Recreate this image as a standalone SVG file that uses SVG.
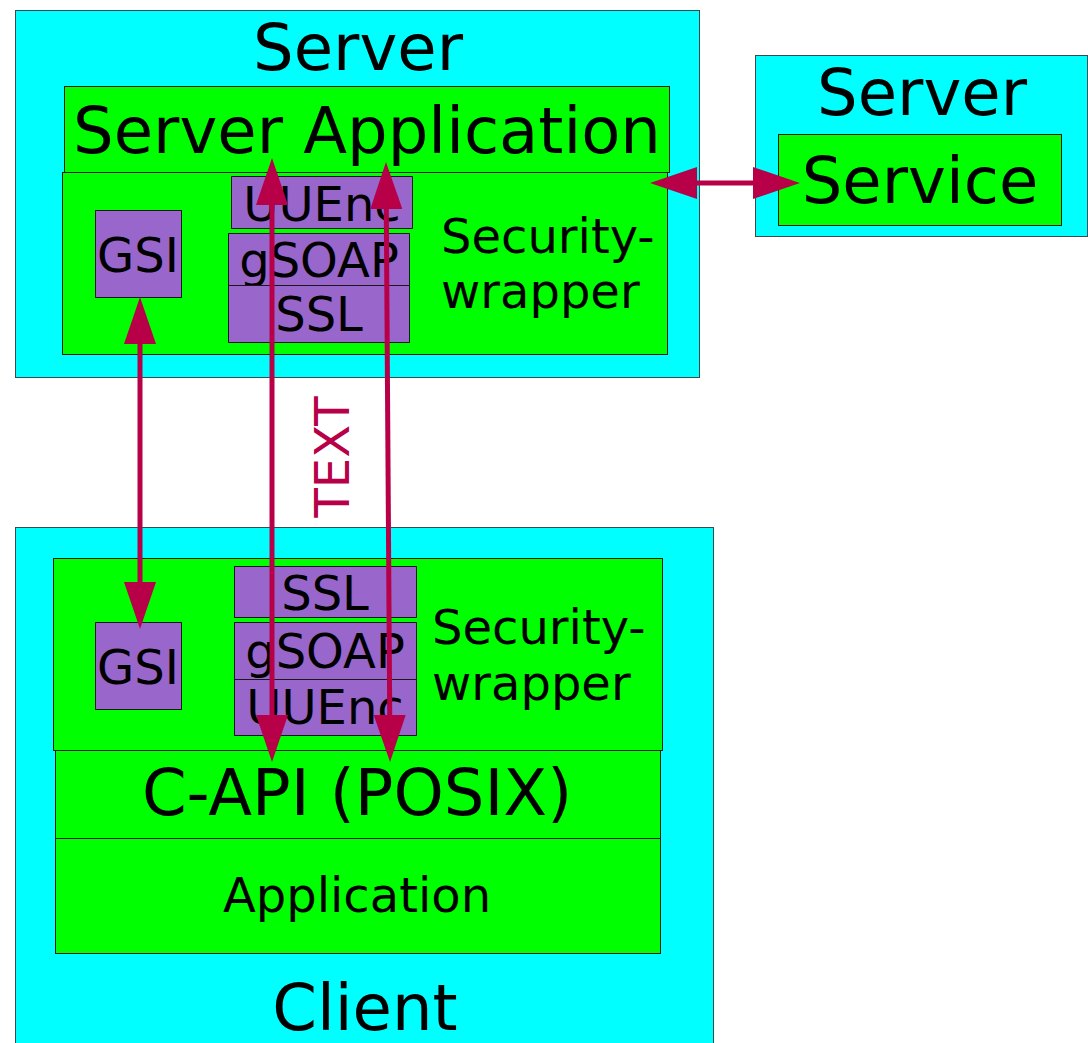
<svg xmlns="http://www.w3.org/2000/svg" width="1088" height="1043" viewBox="0 0 1088 1043">
<defs>
<style>
.host{fill:#00ffff;stroke:#3a4a50;stroke-width:1}
.grn{fill:#00ff00;stroke:#1a1a1a;stroke-width:1}
.pur{fill:#9966cc;stroke:#1a1a1a;stroke-width:1}
text{font-family:"DejaVu Sans",Verdana,sans-serif;fill:#000}
.big{font-size:64px;text-anchor:middle}
.mid{font-size:48px}
.c{text-anchor:middle}
.arr{stroke:#b80048;stroke-width:5;fill:none;marker-start:url(#ah);marker-end:url(#ah)}
.lbl{fill:#b80048;font-size:48px;text-anchor:middle}
</style>
<marker id="ah" markerUnits="userSpaceOnUse" markerWidth="48" markerHeight="32" refX="27" refY="16" orient="auto-start-reverse" viewBox="0 0 48 32">
<path d="M0,0 L47,16 L0,32 z" fill="#b80048"/>
</marker>
</defs>
<g id="server-main">
<rect class="host" x="15.5" y="10.5" width="684" height="367"/>
<text class="big" x="358" y="70">Server</text>
</g>
<g id="server-application">
<rect class="grn" x="64.5" y="86.5" width="605" height="86"/>
<text class="big" x="367" y="153">Server Application</text>
</g>
<g id="server-security-wrapper">
<rect class="grn" x="62.5" y="172.5" width="605" height="182"/>
<text class="mid" x="441" y="253">Security-</text>
<text class="mid" x="441" y="308">wrapper</text>
</g>
<g id="server-gsi">
<rect class="pur" x="95.5" y="210.5" width="86" height="87"/>
<text class="mid c" x="138" y="272">GSI</text>
</g>
<g id="server-uuenc">
<rect class="pur" x="231.5" y="176.5" width="181" height="52"/>
<text class="mid c" x="322" y="221">UUEnc</text>
</g>
<g id="server-gsoap">
<rect class="pur" x="228.5" y="233.5" width="181" height="52"/>
<text class="mid c" x="319" y="277">gSOAP</text>
</g>
<g id="server-ssl">
<rect class="pur" x="228.5" y="285.5" width="181" height="57"/>
<text class="mid c" x="319" y="331">SSL</text>
</g>
<g id="server-right">
<rect class="host" x="755.5" y="55.5" width="332" height="181"/>
<text class="big" x="922" y="115">Server</text>
</g>
<g id="service">
<rect class="grn" x="778.5" y="134.5" width="283" height="91"/>
<text class="big" x="920" y="203">Service</text>
</g>
<g id="client">
<rect class="host" x="15.5" y="527.5" width="698" height="520"/>
<text class="big" x="365" y="1030">Client</text>
</g>
<g id="client-security-wrapper">
<rect class="grn" x="53.5" y="558.5" width="609" height="192"/>
<text class="mid" x="432" y="644">Security-</text>
<text class="mid" x="432" y="700">wrapper</text>
</g>
<g id="client-gsi">
<rect class="pur" x="95.5" y="622.5" width="86" height="87"/>
<text class="mid c" x="138" y="684">GSI</text>
</g>
<g id="client-ssl">
<rect class="pur" x="234.5" y="566.5" width="182" height="51"/>
<text class="mid c" x="325" y="610">SSL</text>
</g>
<g id="client-gsoap">
<rect class="pur" x="234.5" y="622.5" width="182" height="57"/>
<text class="mid c" x="325" y="668">gSOAP</text>
</g>
<g id="client-uuenc">
<rect class="pur" x="234.5" y="679.5" width="182" height="56"/>
<text class="mid c" x="325" y="724">UUEnc</text>
</g>
<g id="c-api">
<rect class="grn" x="55.5" y="750.5" width="605" height="88"/>
<text class="big" x="357" y="815">C-API (POSIX)</text>
</g>
<g id="application">
<rect class="grn" x="55.5" y="838.5" width="605" height="115"/>
<text class="mid c" x="357" y="912">Application</text>
</g>
<g id="connectors">
<line class="arr" x1="140" y1="317" x2="140" y2="609"/>
<line class="arr" x1="272" y1="178" x2="272" y2="742"/>
<line class="arr" x1="386.1" y1="182" x2="389.9" y2="742"/>
<line class="arr" x1="670" y1="183" x2="780" y2="183"/>
<text class="lbl" x="349" y="457" transform="rotate(-90 349 457)">TEXT</text>
</g>
</svg>
